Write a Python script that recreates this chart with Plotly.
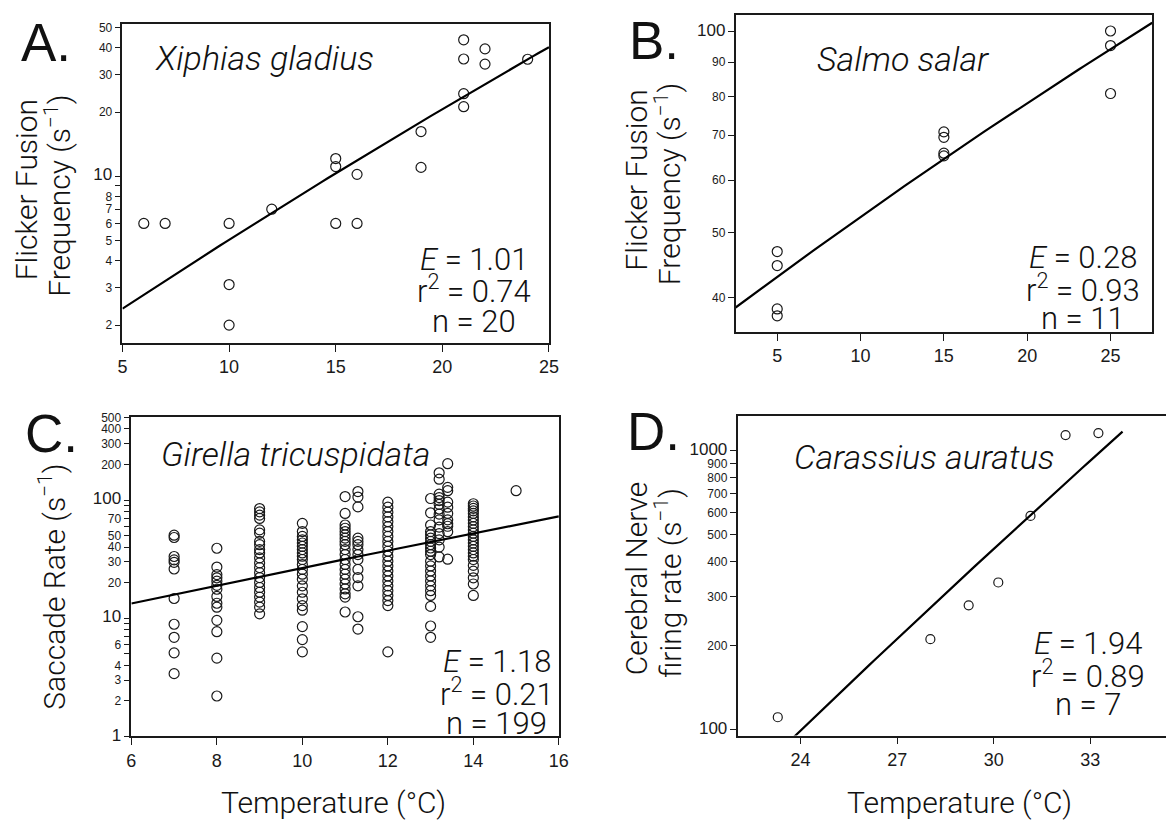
import numpy as np
import plotly.graph_objects as go

W, H = 1176, 825
K_B = 8.617e-5  # Boltzmann constant (eV/K)

# ---------------- Panel A: Xiphias gladius ----------------
a_temp = [6, 7, 10, 10, 10, 12, 15, 15, 15, 16, 16, 19, 19, 21, 21, 21, 21, 22, 22, 24]
a_rate = [6.0, 6.0, 6.0, 3.1, 2.0, 7.0, 12.1, 11.1, 6.0, 10.2, 6.0, 16.2, 11.0,
          43.7, 35.5, 24.4, 21.2, 39.6, 33.6, 35.4]
a_E, a_r2, a_n = "1.01", "0.74", "20"
a_xticks = [5, 10, 15, 20, 25]
a_yticks = [2, 3, 4, 5, 6, 7, 8, 10, 20, 30, 40, 50]
a_ylabels = ["2", "3", "4", "5", "6", "7", "8", "10", "20", "30", "40", "50"]
a_yminor = [9]

# ---------------- Panel B: Salmo salar ----------------
b_temp = [5, 5, 5, 5, 15, 15, 15, 15, 25, 25, 25]
b_rate = [46.9, 44.7, 38.5, 37.6, 70.8, 69.5, 65.8, 65.2, 100.2, 95.3, 80.8]
b_E, b_r2, b_n = "0.28", "0.93", "11"
b_xticks = [5, 10, 15, 20, 25]
b_yticks = [40, 50, 60, 70, 80, 90, 100]
b_ylabels = ["40", "50", "60", "70", "80", "90", "100"]
b_yminor = []

# ---------------- Panel C: Girella tricuspidata ----------------
c_groups = {
    7.0: [50.4, 48.2, 33.3, 31.2, 29.7, 26.1, 14.7, 8.9, 6.9, 5.1, 3.4],
    8.0: [39.1, 27.1, 23.4, 22.0, 20.6, 19.0, 17.6, 15.3, 13.4, 12.4, 9.6, 7.7, 4.6, 2.2],
    9.0: [84.7, 79.4, 74.5, 69.9, 55.9, 52.4, 44.7, 41.9, 38.1, 35.7, 32.4, 29.4, 26.8,
          24.3, 22.1, 20.1, 18.2, 16.6, 15.1, 13.7, 12.4, 10.9],
    10.0: [63.5, 54.1, 49.2, 46.1, 43.3, 40.6, 38.1, 35.7, 33.5, 31.4, 28.5, 25.9, 23.6,
           21.4, 18.8, 16.6, 14.6, 12.8, 11.7, 8.5, 6.6, 5.2],
    11.0: [107, 77, 61.5, 57.7, 54.1, 50.8, 47.6, 44.7, 41.9, 38.1, 34.6, 31.4, 28.5,
           25.9, 23.6, 21.4, 19.5, 17.7, 16.1, 15.1, 11.3],
    11.3: [118, 106, 87.5, 47.6, 44.7, 41.9, 38.1, 34.6, 31.4, 25.9, 22.1, 18.8, 10.3, 8.1],
    12.0: [96, 87, 79, 72, 65.6, 59.6, 54.1, 49.2, 44.7, 40.6, 36.9, 33.5, 30.4, 27.7,
           25.1, 22.8, 20.7, 18.8, 17.1, 15.6, 14.1, 12.8, 5.2],
    13.0: [103, 78, 61.5, 54.1, 50.8, 47.6, 44.7, 41.9, 39.3, 36.9, 34.6, 30.4, 27.7,
           25.1, 22.8, 20.7, 18.8, 17.1, 15.6, 12.6, 8.6, 6.9],
    13.2: [170, 150, 112, 105, 99, 92, 84, 76, 68, 59, 52, 46, 40, 33],
    13.4: [203, 128, 120, 96, 87, 77, 68, 63, 60, 54, 31.6],
    14.0: [93, 89, 85, 81, 77, 72, 67.8, 63.5, 59.6, 55.9, 52.4, 49.2, 46.1, 43.3, 40.6,
           38.1, 35.7, 33.5, 31.4, 28.0, 25.0, 22.0, 19.5, 15.6],
    15.0: [120],
}
c_temp = [t for t, vals in c_groups.items() for _ in vals]
c_rate = [v for vals in c_groups.values() for v in vals]
c_E, c_r2, c_n = "1.18", "0.21", "199"
c_xticks = [6, 8, 10, 12, 14, 16]
c_yticks = [1, 2, 3, 4, 6, 10, 20, 30, 40, 50, 70, 100, 200, 300, 400, 500]
c_ylabels = ["1", "2", "3", "4", "6", "10", "20", "30", "40", "50", "70",
             "100", "200", "300", "400", "500"]
c_yminor = [5, 7, 8, 9, 60, 80, 90]

# ---------------- Panel D: Carassius auratus ----------------
d_temp = [23.29, 28.03, 29.22, 30.14, 31.14, 32.23, 33.25]
d_rate = [110.8, 211, 279, 337, 584, 1138, 1157]
d_E, d_r2, d_n = "1.94", "0.89", "7"
d_xticks = [24, 27, 30, 33]
d_yticks = [100, 200, 300, 400, 500, 600, 700, 800, 900, 1000]
d_ylabels = ["100", "200", "300", "400", "500", "600", "700", "800", "900", "1000"]
d_yminor = []

MAJOR = {"1", "10", "100", "1000"}
INK = "#1a1a1a"
TICK_FONT = "Liberation Sans, Arial, sans-serif"
LIGHT_FONT = "Roboto, 'Helvetica Neue', sans-serif"


def arrhenius_line(temp, rate, E, t0, t1):
    """Boltzmann-Arrhenius fit with activation energy E; intercept from the data."""
    inv_kt = 1.0 / (K_B * (np.asarray(temp, float) + 273.15))
    c = np.mean(np.log(np.asarray(rate, float)) + E * inv_kt)
    t = np.linspace(t0, t1, 80)
    return t, np.exp(c - E / (K_B * (t + 273.15)))


def y_ticktext(labels):
    return [f"<span style='font-size:17px'>{s}</span>" if s in MAJOR else s for s in labels]


def px_dom(x0, x1):
    return [x0 / W, x1 / W]


def py_dom(top, bottom):
    return [1 - bottom / H, 1 - top / H]


def xaxis(dom, anchor, rng, ticks, mirror=True):
    return dict(domain=dom, anchor=anchor, range=rng, tickmode="array", tickvals=ticks,
                ticktext=[str(t) for t in ticks], ticks="outside", ticklen=7, tickwidth=1.2,
                tickcolor=INK, showline=True, linecolor=INK, linewidth=1.6, mirror=mirror,
                showgrid=False, zeroline=False,
                tickfont=dict(family=TICK_FONT, size=18, color=INK))


def yaxis(dom, anchor, rng, ticks, labels, minor_ticks, mirror=True):
    ax = dict(domain=dom, anchor=anchor, type="log", range=rng, tickmode="array",
              tickvals=ticks, ticktext=y_ticktext(labels), ticks="outside", ticklen=6,
              tickwidth=1.1, tickcolor=INK, showline=True, linecolor=INK, linewidth=1.6,
              mirror=mirror, showgrid=False, zeroline=False,
              tickfont=dict(family=TICK_FONT, size=12, color=INK))
    if minor_ticks:
        ax["minor"] = dict(tickmode="array", tickvals=minor_ticks, ticks="outside",
                           ticklen=6, tickwidth=1.1, tickcolor=INK, showgrid=False)
    return ax


fig = go.Figure()

panels = [
    ("x", "y", a_temp, a_rate, float(a_E), 5, 25, 10),
    ("x2", "y2", b_temp, b_rate, float(b_E), 2.5, 27.5, 10),
    ("x3", "y3", c_temp, c_rate, float(c_E), 6, 16, 10),
    ("x4", "y4", d_temp, d_rate, float(d_E), 23.29, 34.0, 9),
]
for xa, ya, tx, ry, E, t0, t1, msize in panels:
    fig.add_trace(go.Scatter(x=tx, y=ry, xaxis=xa, yaxis=ya, mode="markers",
                             marker=dict(symbol="circle-open", size=msize, color=INK,
                                         line=dict(width=1.2, color=INK)),
                             showlegend=False, hoverinfo="skip"))
    lx, ly = arrhenius_line(tx, ry, E, t0, t1)
    fig.add_trace(go.Scatter(x=lx, y=ly, xaxis=xa, yaxis=ya, mode="lines",
                             line=dict(color="#000", width=2.2),
                             showlegend=False, hoverinfo="skip"))


def note(text, px, py, size, angle=0, family=LIGHT_FONT, weight=300, xanchor="center"):
    return dict(text=text, x=px / W, y=1 - py / H, xref="paper", yref="paper",
                xanchor=xanchor, yanchor="middle", showarrow=False, textangle=angle,
                font=dict(family=family, size=size, color="#111", weight=weight))


ann = []
# panel letters
for letter, px, py in [("A.", 42, 36), ("B.", 657, 34), ("C.", 47, 434), ("D.", 657, 432)]:
    ann.append(note(letter, px, py, 53, family="Liberation Sans, Arial, sans-serif", weight=400))

# species names
for name, px, py in [("Xiphias gladius", 150, 52), ("Salmo salar", 820, 53),
                     ("Girella tricuspidata", 156, 455), ("Carassius auratus", 797, 458)]:
    ann.append(note(f"<i>{name}</i>", px, py, 34, xanchor="left"))

# statistics blocks
for (E, r2, n), cx, ys in [((a_E, a_r2, a_n), 475, (257, 288, 320)),
                           ((b_E, b_r2, b_n), 1092, (255, 287, 317)),
                           ((c_E, c_r2, c_n), 498, (667, 698, 730)),
                           ((d_E, d_r2, d_n), 1097, (648, 680, 710))]:
    ann.append(note(f"<i>E</i> = {E}", cx, ys[0], 31))
    ann.append(note(f"r<sup>2</sup> = {r2}", cx, ys[1], 31))
    ann.append(note(f"n = {n}", cx, ys[2], 31))

# axis titles
ann.append(note("Flicker Fusion", 22, 186, 30, angle=-90))
ann.append(note("Frequency (s<sup>−1</sup>)", 54, 192, 30, angle=-90))
ann.append(note("Flicker Fusion", 640, 176, 30, angle=-90))
ann.append(note("Frequency (s<sup>−1</sup>)", 672, 180, 30, angle=-90))
ann.append(note("Saccade Rate (s<sup>−1</sup>)", 48, 590, 30, angle=-90))
ann.append(note("Cerebral Nerve", 640, 582, 30, angle=-90))
ann.append(note("firing rate (s<sup>−1</sup>)", 672, 586, 30, angle=-90))
ann.append(note("Temperature (°C)", 333, 810, 30))
ann.append(note("Temperature (°C)", 967, 810, 30))

fig.update_layout(
    width=W, height=H, margin=dict(l=0, r=0, t=0, b=0),
    paper_bgcolor="white", plot_bgcolor="white", showlegend=False,
    xaxis=xaxis(px_dom(119, 551), "y", [5, 25], a_xticks),
    yaxis=yaxis(py_dom(17, 342), "x", [0.218, 1.716], a_yticks, a_ylabels, a_yminor),
    xaxis2=xaxis(px_dom(740, 1162), "y2", [2.5, 27.5], b_xticks),
    yaxis2=yaxis(py_dom(8, 331), "x2", [1.551, 2.025], b_yticks, b_ylabels, b_yminor),
    xaxis3=xaxis(px_dom(128, 561), "y3", [6, 16], c_xticks),
    yaxis3=yaxis(py_dom(418, 743), "x3", [0.0, 2.699], c_yticks, c_ylabels, c_yminor),
    xaxis4=xaxis(px_dom(742, 1176), "y4", [22.04, 35.35], d_xticks),
    yaxis4=yaxis(py_dom(417, 742), "x4", [1.979, 3.123], d_yticks, d_ylabels, d_yminor,
                 mirror=False),
    annotations=ann,
)

fig.write_html("out.html")
